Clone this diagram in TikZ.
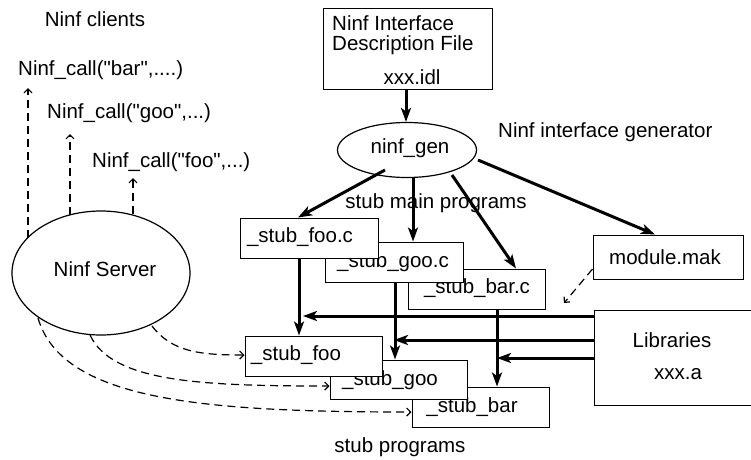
\documentclass[tikz,border=0pt]{standalone}
\usepackage{fontspec}
\setmainfont{Liberation Sans}
\usetikzlibrary{arrows.meta,shapes.geometric}
\tikzset{
  box/.style={draw, line width=1pt, fill=white, inner sep=0pt},
  oval/.style={ellipse, draw, line width=1.2pt, inner sep=0pt},
  txt/.style={inner sep=0pt, font=\fontsize{20.5}{24}\selectfont},
  thickarrow/.style={line width=3pt, -{Stealth[length=14pt,width=10pt,inset=3.5pt]}},
  dasharrow/.style={line width=1.2pt, dash pattern=on 8pt off 5pt, -{Straight Barb[length=4pt,width=8pt]}}
}
\begin{document}
\begin{tikzpicture}[x=1pt,y=-1pt]
\useasboundingbox (0,0) rectangle (751,459);
% clients
\node[txt] (clients) at (95,19) {Ninf clients};
\node[txt, anchor=west] (cbar) at (18,70) {Ninf\_call(\textquotedbl bar\textquotedbl,....)};
\node[txt, anchor=west] (cgoo) at (47,113) {Ninf\_call(\textquotedbl goo\textquotedbl,...)};
\node[txt, anchor=west] (cfoo) at (92,162) {Ninf\_call(\textquotedbl foo\textquotedbl,...)};
\coordinate (tbar) at (28,88);
\coordinate (tgoo) at (70,134);
\coordinate (tfoo) at (133,178);
% server
\node[oval, minimum width=178, minimum height=124] (server) at (101,273) {};
\node[txt] (servertxt) at (105,269) {Ninf Server};
\coordinate (sbar) at (28,238);
\coordinate (sgoo) at (70,215);
\coordinate (sfoo) at (133,214);
\draw[dasharrow] (sbar) -- (tbar);
\draw[dasharrow] (sgoo) -- (tgoo);
\draw[dasharrow] (sfoo) -- (tfoo);
% idl box
\node[box, minimum width=169, minimum height=81] (idl) at (407.5,48.5) {};
\node[txt, anchor=west] (idl1) at (332,23) {Ninf Interface};
\node[txt, anchor=west] (idl2) at (332,45) {Description File};
\node[txt] (idl3) at (412,77) {xxx.idl};
% ninf_gen
\node[oval, minimum width=139, minimum height=55] (gen) at (407,150) {};
\node[txt] (gentxt) at (410,148) {ninf\_gen};
\node[txt, anchor=west] (gendesc) at (498,132) {Ninf interface generator};
\draw[thickarrow] (idl.south -| 406,0) -- (gen.north -| 406,0);
% stub main programs
\node[txt] (smp) at (436,203) {stub main programs};
\node[box, minimum width=137, minimum height=40] (barc) at (476.5,289) {};
\node[txt] (barctxt) at (477,288) {\_stub\_bar.c};
\node[box, minimum width=138, minimum height=40] (gooc) at (394,262) {};
\node[txt] (gooctxt) at (393,262) {\_stub\_goo.c};
\node[box, minimum width=138, minimum height=40] (fooc) at (309,238) {};
\node[txt] (fooctxt) at (300,237) {\_stub\_foo.c};
% module.mak
\node[box, minimum width=150, minimum height=44] (mak) at (668,257) {};
\node[txt] (maktxt) at (665,257) {module.mak};
% libraries
\node[box, minimum width=162, minimum height=95] (lib) at (675,357.5) {};
\node[txt] (lib1) at (672,340) {Libraries};
\node[txt] (lib2) at (678,374) {xxx.a};
% arrows from ninf_gen
\coordinate (g1) at (385,170);
\coordinate (g3) at (452,175);
\coordinate (g4) at (478,160);
\draw[thickarrow] (g1) -- (fooc.north -| 298,0);
\draw[thickarrow] (gen.south -| 413,0) -- (gooc.north -| 413,0);
\draw[thickarrow] (g3) -- (barc.north -| 516,0);
\draw[thickarrow] (g4) -- (mak.north -| 655,0);
% stub programs
\node[box, minimum width=137, minimum height=40] (sbarb) at (480.5,407) {};
\node[txt] (sbartxt) at (472,407) {\_stub\_bar};
\node[box, minimum width=137, minimum height=39] (sgoob) at (398.5,379.5) {};
\node[txt] (sgootxt) at (390,380) {\_stub\_goo};
\node[box, minimum width=137, minimum height=40] (sfoob) at (313.5,356) {};
\node[txt] (sfootxt) at (296,355) {\_stub\_foo};
\node[txt] (sp) at (400,447) {stub programs};
% vertical arrows
\draw[thickarrow] (fooc.south -| 299,0) -- (sfoob.north -| 299,0);
\draw[thickarrow] (gooc.south -| 395,0) -- (sgoob.north -| 395,0);
\draw[thickarrow] (barc.south -| 497,0) -- (sbarb.north -| 497,0);
% horizontal arrows from libraries
\coordinate (h1) at (303,316);
\coordinate (h2) at (394,340);
\coordinate (h3) at (497,358);
\draw[thickarrow] (lib.west |- h1) -- (h1);
\draw[thickarrow] (lib.west |- h2) -- (h2);
\draw[thickarrow] (lib.west |- h3) -- (h3);
% module.mak dashed
\coordinate (makend) at (564,303);
\draw[dasharrow] (mak.west |- 0,269) -- (makend);
% server to stubs
\coordinate (s1) at (152,326);
\coordinate (s2) at (90,335);
\coordinate (s3) at (38,318);
\draw[dasharrow] (s1) .. controls (172,352) and (200,355) .. (sfoob.west |- 0,355);
\draw[dasharrow] (s2) .. controls (112,382) and (200,386) .. (sgoob.west |- 0,386);
\draw[dasharrow] (s3) .. controls (62,400) and (200,412) .. (sbarb.west |- 0,412);
\end{tikzpicture}
\end{document}
